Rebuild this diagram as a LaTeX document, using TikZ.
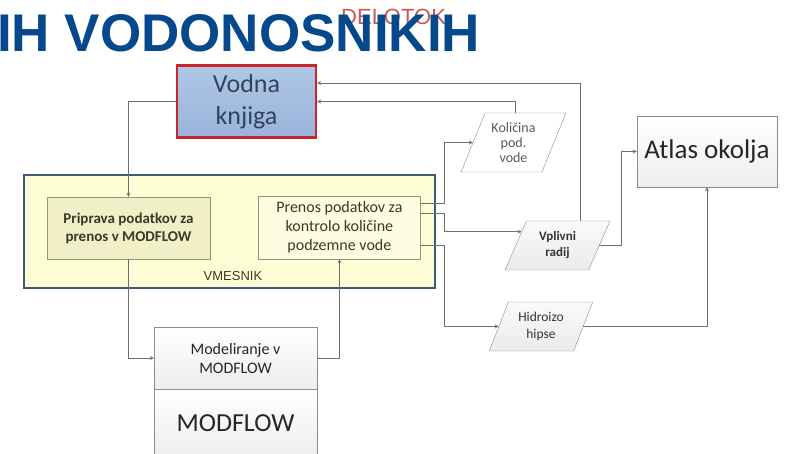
\documentclass[tikz,border=0pt]{standalone}
\usepackage{fontspec}
\setmainfont{Carlito}
\newfontfamily\arialfont{Liberation Sans}
\usepackage{tikz}
\usepackage{xcolor}
\usetikzlibrary{shapes.geometric, arrows, positioning, calc}
\definecolor{titleblue}{RGB}{6,72,140}
\definecolor{delotokred}{RGB}{196,90,90}
\definecolor{booktop}{RGB}{176,199,230}
\definecolor{bookbottom}{RGB}{152,180,218}
\definecolor{bookred}{RGB}{200,38,44}
\definecolor{booktext}{RGB}{50,68,92}
\definecolor{midyellow}{RGB}{254,254,214}
\definecolor{midborder}{RGB}{62,90,122}
\definecolor{prepfill}{RGB}{241,239,200}
\definecolor{procfill}{RGB}{253,253,226}
\definecolor{procborder}{RGB}{150,150,118}
\definecolor{proctext}{RGB}{58,58,40}
\definecolor{greyline}{RGB}{110,110,110}
\definecolor{greyborder}{RGB}{140,140,140}
\tikzstyle{book} = [rectangle, minimum width=139pt, minimum height=72pt, text centered, align=center, draw=bookred, top color=booktop, bottom color=bookbottom, line width=2.2pt, text=booktext, font=\fontsize{26}{32}\selectfont]
\tikzstyle{middleware} = [rectangle, minimum width=411pt, minimum height=113pt, draw=midborder, fill=midyellow, line width=2pt]
\tikzstyle{prepare} = [rectangle, minimum width=163pt, minimum height=62pt, text centered, align=center, draw=procborder, fill=prepfill, text=proctext, font=\bfseries\fontsize{15}{18}\selectfont]
\tikzstyle{transfer} = [rectangle, minimum width=162pt, minimum height=63pt, text centered, align=center, draw=procborder, fill=procfill, text=proctext, font=\fontsize{16}{19}\selectfont]
\tikzstyle{model} = [rectangle, minimum width=163pt, minimum height=62pt, text centered, align=center, draw=greyborder, top color=white, bottom color=gray!14, text=black!85, font=\fontsize{16}{19}\selectfont]
\tikzstyle{dataset} = [trapezium, trapezium left angle=65, trapezium right angle=115, trapezium stretches=true, minimum width=105pt, minimum height=49pt, text centered, align=center, inner sep=0pt, draw=greyborder, top color=gray!4, bottom color=gray!16, text=black!80]
\tikzstyle{wire} = [draw=greyline, line width=0.8pt]
\tikzstyle{arrow} = [->, >=stealth, draw=greyline, line width=0.8pt]

\begin{document}
\begin{tikzpicture}[x=1pt, y=1pt]
        \useasboundingbox (0,0) rectangle (787,453);

        \node (delotok) [anchor=base west, inner sep=0pt, text=delotokred, font=\arialfont\fontsize{22}{26}\selectfont] at (341,428) {DELOTOK};
        \node (title) [anchor=base west, inner sep=0pt, text=titleblue, font=\arialfont\bfseries\fontsize{53}{60}\selectfont] at (-3,401) {IH VODONOSNIKIH};

        \node (vodna) [book] at (246.5,351.5) {Vodna\\knjiga};
        \node (vmesnik) [middleware] at (229.5,221.5) {};
        \node (label) [text=proctext, font=\arialfont\fontsize{13}{15}\selectfont] at (233,177) {VMESNIK};
        \node (priprava) [prepare] at (128.5,225) {Priprava podatkov za\\prenos v MODFLOW};
        \node (prenos) [transfer, right=48pt of priprava, yshift=0.5pt] {Prenos podatkov za\\kontrolo količine\\podzemne vode};
        \node (modeliranje) [model] at (235.5,95) {Modeliranje v\\MODFLOW};
        \node (modflow) [model, minimum height=68pt, below=0pt of modeliranje, font=\fontsize{26}{30}\selectfont] {MODFLOW};
        \node (kolicina) [dataset, minimum height=59pt, fill=white, top color=white, bottom color=white, text=black!65, font=\fontsize{14}{15}\selectfont] at (513.5,310.5) {Količina\\pod.\\vode};
        \node (vplivni) [dataset, font=\bfseries\fontsize{13}{16}\selectfont] at (557.5,207.5) {Vplivni\\radij};
        \node (hidroizo) [dataset, minimum width=104pt, font=\fontsize{13.5}{17}\selectfont] at (541,126.5) {Hidroizo\\hipse};
        \node (atlas) [model, minimum width=140pt, minimum height=71pt, font=\fontsize{27}{32}\selectfont] at (707,301.5) {Atlas okolja};

        \coordinate (bus) at ([xshift=24pt]prenos.east);
        \coordinate (rise) at ([xshift=-15pt]atlas.west);
        \coordinate (vpin) at ($(vplivni.bottom left corner)!0.78!(vplivni.top left corner)$);
        \coordinate (vptop) at ($(vplivni.top left corner)!0.65!(vplivni.top right corner)$);
        \coordinate (kotop) at ($(kolicina.top left corner)!0.38!(kolicina.top right corner)$);

        \draw [arrow] (vodna.west) -| (priprava.north);
        \draw [arrow] (priprava.south) |- (modeliranje.west);
        \draw [arrow] (modeliranje.east) -| (prenos.south);
        \draw [arrow] ([yshift=24.5pt]prenos.east) -| (bus |- kolicina.left side) -- (kolicina.left side);
        \draw [arrow] ([yshift=14.5pt]prenos.east) -| (bus |- vpin) -- (vpin);
        \draw [arrow] ([yshift=-17.5pt]prenos.east) -| (bus |- hidroizo.left side) -- (hidroizo.left side);
        \draw [arrow] (vptop) |- ([yshift=18.5pt]vodna.east);
        \draw [arrow] (kotop) |- (vodna.east);
        \draw [wire] (vplivni.right side) -| (rise);
        \draw [arrow] (rise) -- (atlas.west);
        \draw [arrow] (hidroizo.right side) -| (atlas.south);
    \end{tikzpicture}
\end{document}
